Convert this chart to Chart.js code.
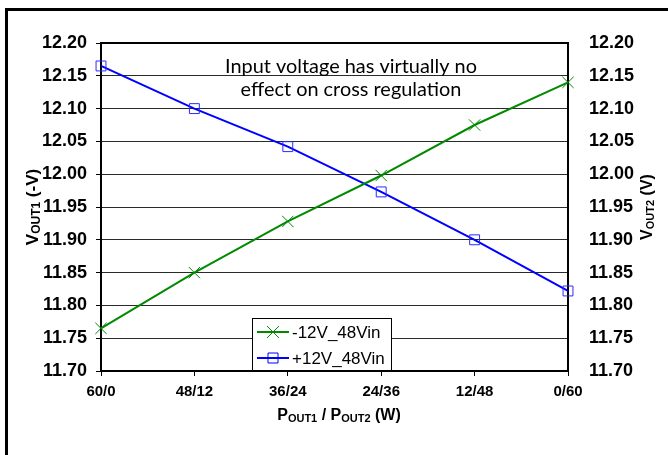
<!DOCTYPE html>
<html>
<head>
<meta charset="utf-8">
<script src="https://cdn.jsdelivr.net/npm/chart.js@4.4.0/dist/chart.umd.min.js"></script>
<style>
  html, body { margin: 0; padding: 0; background: #fff; }
  #wrap { width: 668px; height: 455px; }
</style>
</head>
<body>
<div id="wrap"><canvas id="crossChart" width="668" height="455"></canvas></div>
<script>
// data
const loadSplit = ['60/0', '48/12', '36/24', '24/36', '12/48', '0/60'];
const vNeg12 = [11.765, 11.850, 11.928, 11.998, 12.075, 12.140];
const vPos12 = [12.165, 12.100, 12.042, 11.973, 11.900, 11.822];
const yTicks = [11.70, 11.75, 11.80, 11.85, 11.90, 11.95, 12.00, 12.05, 12.10, 12.15, 12.20];
const seriesNames = ['-12V_48Vin', '+12V_48Vin'];
const noteLines = ['Input voltage has virtually no', 'effect on cross regulation'];
// titles with subscripts: [text, isSub]
const leftTitle = [['V', false], ['OUT1', true], [' (-V)', false]];
const rightTitle = [['V', false], ['OUT2', true], [' (V)', false]];
const bottomTitle = [['P', false], ['OUT1', true], [' / P', false], ['OUT2', true], [' (W)', false]];

const GREEN = '#008a00';
const BLUE = '#0000ff';
const ARIAL = '"Liberation Sans", Arial, sans-serif';

function drawRich(ctx, parts, cx, cy, rot, bigSize, smallSize) {
    const big = 'bold ' + bigSize + 'px ' + ARIAL;
    const small = 'bold ' + smallSize + 'px ' + ARIAL;
    let total = 0;
    parts.forEach(p => { ctx.font = p[1] ? small : big; total += ctx.measureText(p[0]).width; });
    ctx.save();
    ctx.translate(cx, cy);
    ctx.rotate(rot);
    ctx.fillStyle = '#000';
    ctx.textBaseline = 'alphabetic';
    ctx.textAlign = 'left';
    let x = -total / 2;
    parts.forEach(p => {
        ctx.font = p[1] ? small : big;
        ctx.fillText(p[0], x, p[1] ? 8 : 6);
        x += ctx.measureText(p[0]).width;
    });
    ctx.restore();
}

const decorPlugin = {
    id: 'decor',
    beforeDraw(chart) {
        const ctx = chart.ctx;
        ctx.save();
        ctx.fillStyle = '#fff';
        ctx.fillRect(0, 0, chart.width, chart.height);
        ctx.strokeStyle = '#000';
        ctx.lineWidth = 3;
        ctx.strokeRect(6.5, 9.5, 720, 520);
        ctx.restore();
    },
    beforeDatasetsDraw(chart) {
        const a = chart.chartArea;
        const ctx = chart.ctx;
        ctx.save();
        ctx.strokeStyle = '#000';
        ctx.lineWidth = 2;
        ctx.strokeRect(a.left, a.top, a.right - a.left, a.bottom - a.top);
        ctx.restore();
    },
    afterDatasetsDraw(chart) {
        const ctx = chart.ctx;
        const a = chart.chartArea;
        ctx.save();

        // note text, sized so the first line spans about 252px
        ctx.font = '20px Lato, sans-serif';
        const w20 = ctx.measureText(noteLines[0]).width;
        const fs = Math.min(22, 20 * 252 / w20);
        ctx.font = fs.toFixed(1) + 'px Lato, sans-serif';
        ctx.fillStyle = '#000';
        ctx.textAlign = 'center';
        ctx.textBaseline = 'alphabetic';
        ctx.fillText(noteLines[0], 351, 73);
        ctx.fillText(noteLines[1], 351, 96);

        // legend
        ctx.fillStyle = '#fff';
        ctx.fillRect(252.5, 318.5, 139, 52);
        ctx.strokeStyle = '#000';
        ctx.lineWidth = 1;
        ctx.strokeRect(252.5, 318.5, 139, 52);
        const rows = [332, 358];
        const cols = [GREEN, BLUE];
        rows.forEach((ry, i) => {
            ctx.strokeStyle = cols[i];
            ctx.lineWidth = 2;
            ctx.beginPath();
            ctx.moveTo(257, ry);
            ctx.lineTo(289, ry);
            ctx.stroke();
            ctx.lineWidth = 1;
            ctx.beginPath();
            if (i === 0) {
                ctx.moveTo(267, ry - 6); ctx.lineTo(279, ry + 6);
                ctx.moveTo(279, ry - 6); ctx.lineTo(267, ry + 6);
            } else {
                ctx.rect(268, ry - 5, 10, 10);
            }
            ctx.stroke();
            ctx.fillStyle = '#000';
            ctx.font = '17px ' + ARIAL;
            ctx.textAlign = 'left';
            ctx.textBaseline = 'middle';
            ctx.fillText(seriesNames[i], 292, ry + 1);
        });
        ctx.restore();

        // axis titles
        drawRich(ctx, leftTitle, 32, (a.top + a.bottom) / 2, -Math.PI / 2, 17, 12);
        drawRich(ctx, rightTitle, 646, (a.top + a.bottom) / 2, -Math.PI / 2, 16, 11);
        drawRich(ctx, bottomTitle, 339, 414, 0, 16, 11);
    }
};

const ctx = document.getElementById('crossChart').getContext('2d');
new Chart(ctx, {
    type: 'line',
    data: {
        labels: loadSplit,
        datasets: [{
            label: seriesNames[0],
            data: vNeg12,
            yAxisID: 'y',
            borderColor: GREEN,
            borderWidth: 2,
            pointStyle: 'crossRot',
            pointRadius: 8,
            pointBorderWidth: 1,
            pointBorderColor: GREEN,
            pointBackgroundColor: GREEN,
            tension: 0,
            clip: false
        }, {
            label: seriesNames[1],
            data: vPos12,
            yAxisID: 'y1',
            borderColor: BLUE,
            borderWidth: 2,
            pointStyle: 'rect',
            pointRadius: 7,
            pointBorderWidth: 1,
            pointBorderColor: '#2a2aff',
            pointBackgroundColor: 'rgba(255,255,255,0)',
            tension: 0,
            clip: false
        }]
    },
    options: {
        responsive: false,
        animation: false,
        devicePixelRatio: 1,
        layout: { padding: { top: 43, left: 0, right: 0, bottom: 0 } },
        plugins: { legend: { display: false }, tooltip: { enabled: false } },
        scales: {
            x: {
                type: 'category',
                offset: false,
                afterFit: s => { s.height = 84; },
                grid: { drawOnChartArea: false, drawTicks: true, tickLength: 5, tickColor: '#000', lineWidth: 1 },
                border: { display: false },
                ticks: {
                    color: '#000',
                    padding: 7,
                    maxRotation: 0,
                    font: { family: ARIAL, size: 15, weight: 'bold' }
                }
            },
            y: {
                position: 'left',
                min: 11.7,
                max: 12.2,
                afterFit: s => { s.width = 101; },
                afterBuildTicks: s => { s.ticks = yTicks.map(v => ({ value: v })); },
                grid: { color: '#2a2a2a', lineWidth: 1, tickLength: 5, tickColor: '#000' },
                border: { display: false },
                ticks: {
                    color: '#000',
                    padding: 9,
                    callback: v => Number(v).toFixed(2),
                    font: { family: ARIAL, size: 18, weight: 'bold' }
                }
            },
            y1: {
                position: 'right',
                min: 11.7,
                max: 12.2,
                afterFit: s => { s.width = 100; },
                afterBuildTicks: s => { s.ticks = yTicks.map(v => ({ value: v })); },
                grid: { display: false },
                border: { display: false },
                ticks: {
                    color: '#000',
                    padding: 13,
                    callback: v => Number(v).toFixed(2),
                    font: { family: ARIAL, size: 18, weight: 'bold' }
                }
            }
        }
    },
    plugins: [decorPlugin]
});
</script>
</body>
</html>
